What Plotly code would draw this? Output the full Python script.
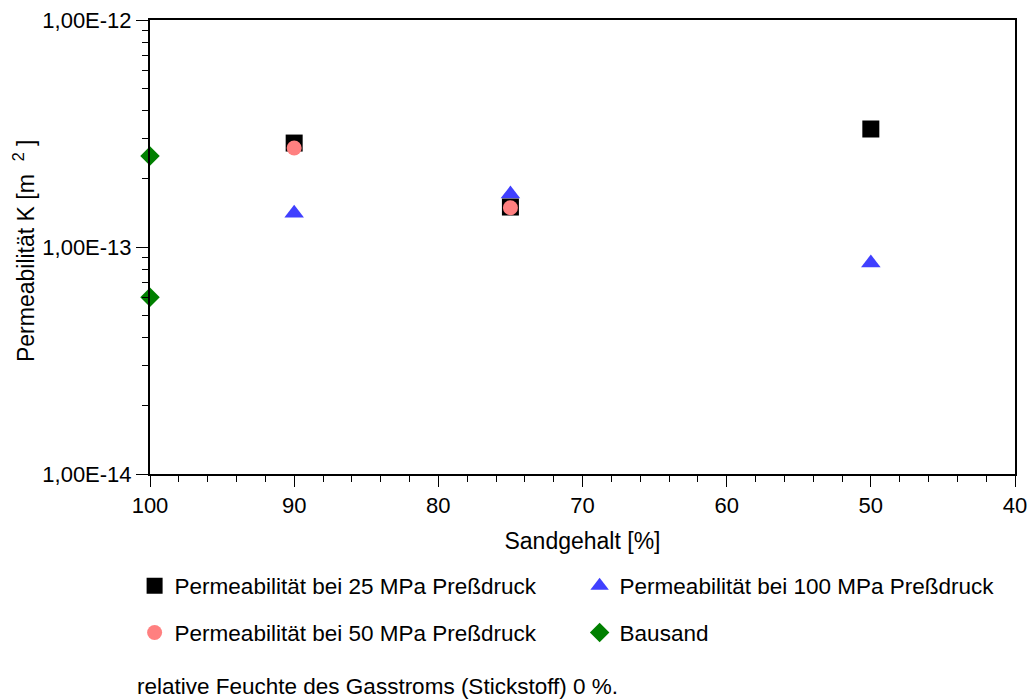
import plotly.graph_objects as go

# Data (Sandgehalt [%] vs Permeabilität K [m^2])
x_25 = [90, 75, 50]
k_25 = [2.87e-13, 1.50e-13, 3.31e-13]

x_50 = [90, 75]
k_50 = [2.73e-13, 1.49e-13]

x_100 = [90, 75, 50]
k_100 = [1.41e-13, 1.71e-13, 8.5e-14]

x_bau = [100, 100]
k_bau = [2.52e-13, 6.0e-14]

y_major = [1e-14, 1e-13, 1e-12]
y_major_text = ["1,00E-14", "1,00E-13", "1,00E-12"]
y_minor = [m * 10.0 ** e for e in (-14, -13) for m in range(2, 10)]

FONT = "Liberation Sans, Arial, sans-serif"
FS = 23      # axis titles
FT = 22      # tick labels
FL = 22.5    # legend / note

fig = go.Figure()
fig.add_trace(go.Scatter(x=x_100, y=k_100, mode="markers", name="Permeabilität bei 100 MPa Preßdruck",
                         marker=dict(symbol="triangle-up", size=17, color="#4040FF", line=dict(width=0)),
                         legend="legend", legendrank=2))
fig.add_trace(go.Scatter(x=x_25, y=k_25, mode="markers", name="Permeabilität bei 25 MPa Preßdruck",
                         marker=dict(symbol="square", size=17, color="#000000", line=dict(width=0)),
                         legend="legend", legendrank=1))
fig.add_trace(go.Scatter(x=x_50, y=k_50, mode="markers", name="Permeabilität bei 50 MPa Preßdruck",
                         marker=dict(symbol="circle", size=15, color="#FF8080", line=dict(width=0)),
                         legend="legend2", legendrank=1))
fig.add_trace(go.Scatter(x=x_bau, y=k_bau, mode="markers", name="Bausand",
                         marker=dict(symbol="diamond", size=15, color="#008000", line=dict(width=0)),
                         legend="legend2", legendrank=2))

for tr in fig.data:
    tr.cliponaxis = False

legend_common = dict(orientation="h", xanchor="left", yanchor="middle",
                     entrywidth=400, entrywidthmode="pixels",
                     font=dict(family=FONT, size=FL, color="#000"),
                     bgcolor="rgba(0,0,0,0)", itemsizing="trace", traceorder="normal")

fig.update_layout(
    width=1031, height=700,
    margin=dict(l=150, r=16, t=20, b=226, autoexpand=False),
    paper_bgcolor="white", plot_bgcolor="white",
    font=dict(family=FONT, size=FS, color="#000"),
    showlegend=True,
    legend=dict(x=-0.0178, y=-0.2467, **legend_common),
    legend2=dict(x=-0.0178, y=-0.35, **legend_common),
    xaxis=dict(
        range=[100, 40], showgrid=False, zeroline=False, automargin=False,
        showline=True, linecolor="#000", linewidth=2, mirror=True,
        ticks="outside", ticklen=11, tickwidth=1, tickcolor="#000",
        tickvals=[100, 90, 80, 70, 60, 50, 40],
        minor=dict(ticks="outside", ticklen=6, tickwidth=1, tickcolor="#000", dtick=2, showgrid=False),
        tickfont=dict(family=FONT, size=FT), ticklabelstandoff=0, ticklabeloverflow="allow",
        title=dict(text="Sandgehalt [%]", font=dict(family=FONT, size=FS)),
    ),
    yaxis=dict(
        type="log", range=[-14, -12], showgrid=False, zeroline=False, automargin=False,
        showline=True, linecolor="#000", linewidth=2, mirror=True,
        ticks="outside", ticklen=12, tickwidth=1, tickcolor="#000",
        tickvals=y_major, ticktext=y_major_text, ticklabeloverflow="allow",
        minor=dict(ticks="outside", ticklen=6, tickwidth=1, tickcolor="#000", tickvals=y_minor, showgrid=False),
        tickfont=dict(family=FONT, size=FT),
    ),
    annotations=[
        dict(text="Permeabilität K [m  <sup>2</sup> ]", xref="paper", yref="paper",
             x=-0.1457, y=0.491, xanchor="center", yanchor="middle", textangle=-90, showarrow=False,
             font=dict(family=FONT, size=FS, color="#000")),
        dict(text="relative Feuchte des Gasstroms (Stickstoff) 0 %.", xref="paper", yref="paper",
             x=-0.0173, y=-0.467, xanchor="left", yanchor="middle", showarrow=False,
             font=dict(family=FONT, size=FL, color="#000")),
    ],
)

fig.write_html("out.html", config={"displayModeBar": False},
               post_script="document.body.style.margin='0';document.body.style.overflow='hidden';")
